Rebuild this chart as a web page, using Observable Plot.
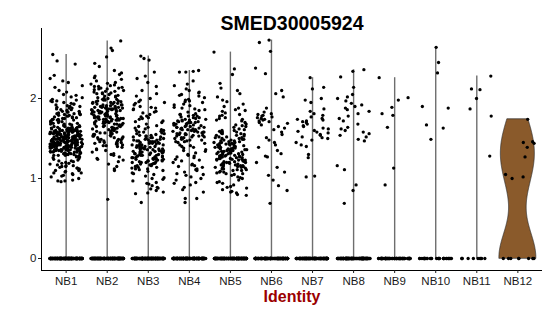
<!DOCTYPE html>
<html><head><meta charset="utf-8">
<script src="https://cdn.jsdelivr.net/npm/d3@7"></script>
<script src="https://cdn.jsdelivr.net/npm/@observablehq/plot@0.6"></script>
<style>body{margin:0;background:#fff;} svg{display:block}</style>
</head><body><div id="chart"></div>
<script>
const title = "SMED30005924";
const xLabel = "Identity";
const categories = ["NB1","NB2","NB3","NB4","NB5","NB6","NB7","NB8","NB9","NB10","NB11","NB12"];
const yTicks = [0, 1, 2];
const zeroCounts = [150,150,150,150,150,120,120,120,70,30,10,8];

const nb1 = [2.55,2.47,2.43,2.29,2.25,2.22,2.20,2.16,2.14,2.10,2.08,2.05,2.04,2.02,2.01,
1.99,1.98,1.97,1.96,1.95,1.94,1.93,1.92,1.91,1.90,1.89,1.88,1.87,1.86,1.85,1.97,1.93,1.90,1.88,1.86,
1.84,1.83,1.82,1.81,1.80,1.79,1.78,1.77,1.76,1.75,1.74,1.73,1.72,1.71,1.70,1.69,1.68,1.67,1.66,1.84,1.82,1.80,1.78,1.76,1.74,1.72,1.70,1.68,1.83,1.79,1.75,1.71,1.67,1.81,1.77,1.73,1.69,1.80,1.74,1.68,
1.25,1.26,1.27,1.28,1.29,1.30,1.31,1.32,1.33,1.34,1.35,1.36,1.37,1.38,1.39,1.40,1.41,1.42,1.43,1.44,1.45,1.46,1.47,1.48,1.49,1.50,1.51,1.52,1.53,1.54,1.55,1.56,1.57,1.58,1.59,1.60,1.61,1.62,1.63,1.64,1.65,1.66,
1.27,1.29,1.31,1.33,1.35,1.37,1.39,1.41,1.43,1.45,1.47,1.49,1.51,1.53,1.55,1.57,1.59,1.61,1.63,1.65,
1.30,1.32,1.34,1.36,1.38,1.40,1.42,1.44,1.46,1.48,1.50,1.52,1.54,1.56,1.58,1.60,1.62,1.64,
1.34,1.35,1.36,1.37,1.38,1.39,1.40,1.41,1.42,1.43,1.44,1.45,1.46,1.47,1.48,1.49,1.50,1.51,1.52,1.53,1.54,1.55,1.56,1.57,1.58,1.59,1.60,1.61,1.62,
1.40,1.41,1.42,1.43,1.44,1.45,1.46,1.47,1.48,1.49,1.50,1.51,1.52,1.53,1.54,1.55,1.56,1.57,1.58,1.59,1.60,
1.36,1.38,1.40,1.42,1.44,1.46,1.48,1.50,1.52,1.54,1.56,1.58,
1.33,1.37,1.41,1.45,1.49,1.53,1.57,1.61,1.65,1.29,1.39,1.47,1.55,1.63,
1.28,1.30,1.32,1.34,1.36,1.38,1.40,1.42,1.44,1.46,1.48,1.50,1.52,1.54,1.56,1.58,1.60,1.62,1.64,
1.31,1.33,1.35,1.37,1.39,1.41,1.43,1.45,1.47,1.49,1.51,1.53,1.55,1.57,1.59,1.61,1.63,
1.24,1.23,1.22,1.21,1.20,1.19,1.18,1.17,1.16,1.15,1.14,1.13,1.12,1.11,1.10,1.09,1.08,1.07,1.06,1.05,1.22,1.19,1.16,1.13,1.10,1.07,1.04,1.02,1.00,0.98,0.97,0.97,0.96,1.03,1.15];

const nb2 = [2.72,2.63,2.60,2.52,2.44,2.40,2.35,2.32,2.30,2.28,2.26,2.24,2.22,2.20,2.19,2.18,2.17,
2.16,2.15,2.14,2.13,2.12,2.11,2.10,2.09,2.08,2.07,2.06,2.05,2.04,2.03,2.02,2.01,2.15,2.12,2.09,2.06,2.03,2.00,2.13,2.07,
1.60,1.61,1.62,1.63,1.64,1.65,1.66,1.67,1.68,1.69,1.70,1.71,1.72,1.73,1.74,1.75,1.76,1.77,1.78,1.79,1.80,1.81,1.82,1.83,1.84,1.85,1.86,1.87,1.88,1.89,1.90,1.91,1.92,1.93,1.94,1.95,1.96,1.97,1.98,1.99,2.00,
1.61,1.63,1.65,1.67,1.69,1.71,1.73,1.75,1.77,1.79,1.81,1.83,1.85,1.87,1.89,1.91,1.93,1.95,1.97,1.99,
1.62,1.64,1.66,1.68,1.70,1.72,1.74,1.76,1.78,1.80,1.82,1.84,1.86,1.88,1.90,1.92,1.94,1.96,1.98,
1.70,1.71,1.72,1.73,1.74,1.75,1.76,1.77,1.78,1.79,1.80,1.81,1.82,1.83,1.84,1.85,1.86,1.87,1.88,1.89,1.90,
1.65,1.68,1.71,1.74,1.77,1.80,1.83,1.86,1.89,1.92,1.95,
1.40,1.41,1.42,1.43,1.44,1.45,1.46,1.47,1.48,1.49,1.50,1.51,1.52,1.53,1.54,1.55,1.56,1.57,1.58,1.59,
1.41,1.43,1.45,1.47,1.49,1.51,1.53,1.55,1.57,1.59,1.45,1.49,1.53,1.57,
1.39,1.37,1.35,1.33,1.31,1.29,1.27,1.25,1.23,1.21,1.18,1.15,1.12,1.10,1.36,1.30,1.24,
0.74];

const nb3 = [2.53,2.50,2.48,2.33,2.28,2.25,2.20,2.15,2.10,2.06,2.03,2.00,
1.98,1.96,1.94,1.92,1.90,1.88,1.86,1.84,1.82,1.80,1.78,1.76,1.74,1.72,1.70,1.68,1.66,1.64,1.62,1.60,1.95,1.89,1.83,1.77,1.71,1.65,1.61,1.87,1.75,1.63,
1.10,1.11,1.12,1.13,1.14,1.15,1.16,1.17,1.18,1.19,1.20,1.21,1.22,1.23,1.24,1.25,1.26,1.27,1.28,1.29,1.30,1.31,1.32,1.33,1.34,1.35,1.36,1.37,1.38,1.39,1.40,1.41,1.42,1.43,1.44,1.45,1.46,1.47,1.48,1.49,1.50,1.51,1.52,1.53,1.54,1.55,1.56,1.57,1.58,1.59,1.60,
1.12,1.14,1.16,1.18,1.20,1.22,1.24,1.26,1.28,1.30,1.32,1.34,1.36,1.38,1.40,1.42,1.44,1.46,1.48,1.50,1.52,1.54,1.56,1.58,
1.17,1.19,1.21,1.23,1.25,1.27,1.29,1.31,1.33,1.35,1.37,1.39,1.41,1.43,1.45,1.47,1.49,1.51,1.53,
1.20,1.22,1.24,1.26,1.28,1.30,1.32,1.34,1.36,1.38,1.40,1.42,1.44,1.46,1.48,1.50,
1.25,1.29,1.33,1.37,1.41,1.45,
1.09,1.07,1.05,1.03,1.01,0.99,0.97,0.95,0.93,0.91,0.89,0.87,0.85,0.83,0.82,0.81,0.70,1.06,1.00,0.94,0.88];

const nb4 = [2.35,2.34,2.33,2.33,2.22,2.18,2.16,2.12,2.10,2.08,
2.07,2.05,2.03,2.01,1.99,1.97,1.95,1.93,1.91,1.89,1.87,1.85,1.83,1.81,2.04,1.98,1.92,1.86,1.80,1.96,1.88,
1.45,1.46,1.47,1.48,1.49,1.50,1.51,1.52,1.53,1.54,1.55,1.56,1.57,1.58,1.59,1.60,1.61,1.62,1.63,1.64,1.65,1.66,1.67,1.68,1.69,1.70,1.71,1.72,1.73,1.74,1.75,1.76,1.77,1.78,1.79,1.80,
1.46,1.48,1.50,1.52,1.54,1.56,1.58,1.60,1.62,1.64,1.66,1.68,1.70,1.72,1.74,1.76,1.78,
1.51,1.53,1.55,1.57,1.59,1.61,1.63,1.65,1.67,1.69,1.71,1.73,
1.55,1.58,1.61,1.64,1.67,1.70,
1.44,1.42,1.40,1.38,1.36,1.34,1.32,1.30,1.28,1.26,1.24,1.22,1.20,1.18,1.16,1.14,1.12,1.10,1.08,1.06,1.04,1.02,1.00,1.41,1.35,1.29,1.23,1.17,1.11,1.05,1.39,1.27,1.15,
0.98,0.95,0.92,0.89,0.86,0.83,0.75,0.75,0.70,0.94];

const nb5 = [2.58,2.37,2.30,2.19,2.13,2.10,2.06,2.02,
1.98,1.96,1.93,1.90,1.88,1.86,1.84,1.82,1.80,1.78,1.76,1.74,1.72,1.70,1.68,1.66,1.64,1.62,1.60,1.85,1.79,1.73,1.67,1.61,1.75,1.65,
1.05,1.06,1.07,1.08,1.09,1.10,1.11,1.12,1.13,1.14,1.15,1.16,1.17,1.18,1.19,1.20,1.21,1.22,1.23,1.24,1.25,1.26,1.27,1.28,1.29,1.30,1.31,1.32,1.33,1.34,1.35,1.36,1.37,1.38,1.39,1.40,1.41,1.42,1.43,1.44,1.45,1.46,1.47,1.48,1.49,1.50,1.51,1.52,1.53,1.54,1.55,1.56,1.57,1.58,1.59,1.60,
1.06,1.08,1.10,1.12,1.14,1.16,1.18,1.20,1.22,1.24,1.26,1.28,1.30,1.32,1.34,1.36,1.38,1.40,1.42,1.44,1.46,1.48,1.50,1.52,1.54,1.56,1.58,
1.11,1.13,1.15,1.17,1.19,1.21,1.23,1.25,1.27,1.29,1.31,1.33,1.35,1.37,1.39,1.41,1.43,1.45,1.47,1.49,1.51,
1.15,1.17,1.19,1.21,1.23,1.25,1.27,1.29,1.31,1.33,1.35,1.37,1.39,1.41,1.43,1.45,
1.20,1.24,1.28,1.32,1.36,1.40,
1.04,1.02,1.00,0.98,0.96,0.94,0.92,0.90,0.88,0.86,0.84,0.82,0.80,0.79,1.01,0.95,0.89,0.83];

const nb6 = [2.73,2.70,2.59,2.38,2.31,2.10,2.06,2.02,1.88,1.83,1.81,1.80,1.79,1.78,1.77,1.76,1.75,1.74,1.73,1.72,1.71,1.70,1.69,1.67,1.65,1.63,1.61,1.58,1.55,1.51,1.48,1.45,1.42,1.39,1.35,1.31,1.28,1.27,1.20,1.14,1.08,1.04,0.98,0.91,0.85,0.69];
const nb7 = [2.26,2.14,2.12,2.00,1.98,1.95,1.87,1.84,1.81,1.79,1.77,1.75,1.74,1.73,1.72,1.71,1.70,1.68,1.66,1.65,1.63,1.62,1.60,1.59,1.58,1.57,1.55,1.54,1.52,1.51,1.50,1.48,1.45,1.42,1.40,1.30,1.26,1.03,1.02];
const nb8 = [2.36,2.34,2.27,2.14,2.05,2.02,2.00,1.97,1.94,1.92,1.90,1.88,1.86,1.84,1.81,1.78,1.75,1.72,1.68,1.64,1.62,1.60,1.58,1.56,1.54,1.52,1.49,1.47,1.16,1.11,0.92,0.85,0.69];
const nb9 = [2.26,2.01,1.98,1.89,1.81,1.79,1.64,1.13,0.92];
const nb10 = [2.64,2.45,2.32,1.90,1.88,1.67,1.63,1.49];
const nb11 = [2.28,2.12,2.11,2.00,1.87,1.78,1.28];
const nb12 = [1.74,1.46,1.44,1.45,1.39,1.27,1.05,1.02,1.00];
const nonzero = [nb1,nb2,nb3,nb4,nb5,nb6,nb7,nb8,nb9,nb10,nb11,nb12];
const violinFill = "#8A5A2B";

// jittered points (horizontal jitter only, like geom_jitter(height = 0))
const jitter = d3.randomUniform.source(d3.randomLcg(0.1234))(-0.4, 0.4);
const points = [];
const groups = [];
categories.forEach((c, i) => {
  const vals = new Array(zeroCounts[i]).fill(0).concat(nonzero[i]);
  groups.push(vals);
  vals.forEach(v => points.push({x: i + 1 + jitter(), v}));
});

// degenerate violins (bandwidth collapses): drawn as min..max lines
const lines = categories.slice(0, 11).map((c, i) => ({pos: i + 1, lo: d3.min(groups[i]), hi: d3.max(groups[i])}));

// NB12 violin: gaussian KDE, nrd0 bandwidth, trimmed, scaled to width 0.9
function violin(vals, pos) {
  const n = vals.length;
  const sd = d3.deviation(vals);
  const iqr = d3.quantile(vals, 0.75) - d3.quantile(vals, 0.25);
  let lo = Math.min(sd, iqr / 1.34);
  if (!(lo > 0)) lo = sd || 1;
  const bw = 0.9 * lo * Math.pow(n, -0.2);
  const mn = d3.min(vals), mx = d3.max(vals);
  const grid = d3.range(257).map(k => mn + (mx - mn) * k / 256);
  const dens = grid.map(y => d3.sum(vals, v => Math.exp(-0.5 * ((y - v) / bw) ** 2)));
  const m = d3.max(dens);
  return grid.map((y, k) => ({v: y, lo: pos - 0.45 * dens[k] / m, hi: pos + 0.45 * dens[k] / m}));
}
const v12 = violin(groups[11], 12);

const tickPos = categories.map((c, i) => i + 1);

const chart = Plot.plot({
  width: 550, height: 316,
  marginLeft: 41, marginRight: 8, marginTop: 28, marginBottom: 46,
  style: {fontFamily: "'Liberation Sans', Arial, sans-serif", fontSize: "11.5px", color: "#1a1a1a", background: "white"},
  x: {domain: [0.4, 12.6]},
  y: {domain: [-0.15, 2.875]},
  marks: [
    Plot.ruleX(lines, {x: "pos", y1: "lo", y2: "hi", stroke: "#6e6e6e", strokeWidth: 1.4}),
    Plot.areaX(v12, {y: "v", x1: "lo", x2: "hi", fill: violinFill, stroke: "#2b2b2b", strokeWidth: 0.7}),
    Plot.dot(points, {x: "x", y: "v", r: 1.65, fill: "black", stroke: null}),
    Plot.ruleX([0.4], {stroke: "black", strokeWidth: 1}),
    Plot.ruleY([-0.15], {stroke: "black", strokeWidth: 1}),
    Plot.axisX(tickPos, {tickSize: 3, tickPadding: 3, tickFormat: d => categories[d - 1], label: null, fontSize: 11.5}),
    Plot.axisY(yTicks, {tickSize: 3, tickPadding: 2, tickFormat: d => String(d), label: null, fontSize: 11.5}),
    Plot.text([title], {frameAnchor: "top", dy: -12, fontWeight: "bold", fontSize: 19.5, fill: "black"}),
    Plot.text([xLabel], {frameAnchor: "bottom", dy: 31, fontWeight: "bold", fontSize: 16, fill: "#9B0000"})
  ]
});
document.getElementById("chart").appendChild(chart);
</script>
</body></html>
